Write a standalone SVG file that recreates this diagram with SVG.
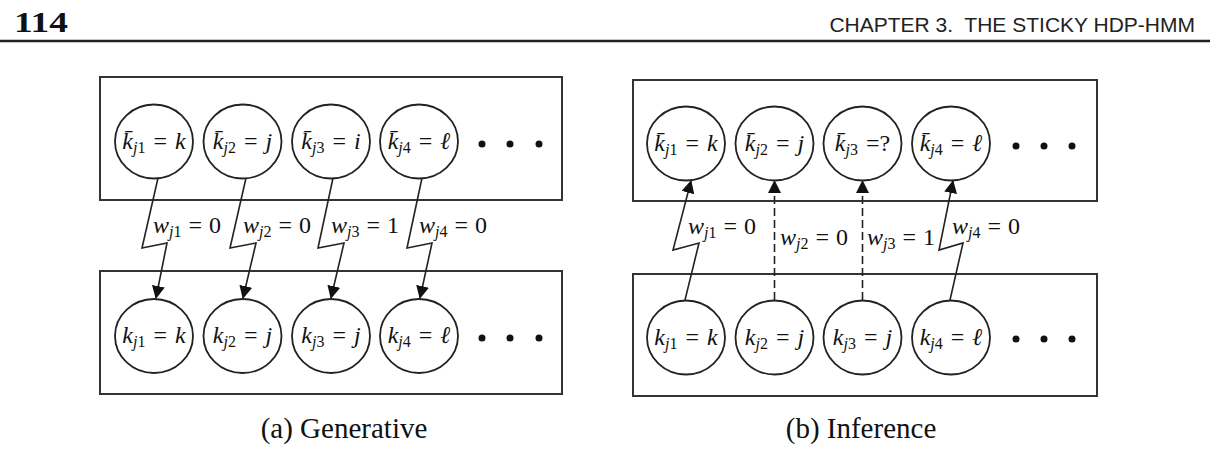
<svg xmlns="http://www.w3.org/2000/svg" width="1224" height="456" viewBox="0 0 1224 456">
<style>
.box{fill:none;stroke:#333;stroke-width:2}
.nd{fill:#fff;stroke:#222;stroke-width:1.8}
.dot{fill:#111}
.m{font-family:"Liberation Serif",serif;font-size:24px;fill:#111}
.i{font-style:italic}
.s{font-size:16px}
.ed{fill:none;stroke:#222;stroke-width:1.6}
.dash{stroke-dasharray:8,4}
.cap{font-family:"Liberation Serif",serif;font-size:29px;fill:#111}
</style>
<defs>
<marker id="ah" markerWidth="13" markerHeight="13" viewBox="0 0 13 13" refX="12" refY="6.5" orient="auto" markerUnits="userSpaceOnUse">
<path d="M0,0 L13,6.5 L0,13 z" fill="#111"/>
</marker>
</defs>
<rect width="1224" height="456" fill="#fff"/>
<g id="header">
<text x="14" y="32" font-family="Liberation Serif,serif" font-weight="bold" font-size="29" textLength="54" lengthAdjust="spacingAndGlyphs" fill="#111">114</text>
<text x="1195" y="32" text-anchor="end" xml:space="preserve" font-family="Liberation Sans,sans-serif" font-size="21" fill="#222">CHAPTER 3.  THE STICKY HDP-HMM</text>
<line x1="0" y1="41" x2="1210" y2="41" stroke="#222" stroke-width="2.5"/>
</g>
<!-- Panel (a) -->
<g id="a-top-box"><rect class="box" x="100" y="77" width="462" height="123"/></g>
<g id="a-bottom-box"><rect class="box" x="100" y="271" width="462" height="123"/></g>
<g id="connectors-a">
<path class="ed" d="M158,178 L142,248 L167,243 L156,298" marker-end="url(#ah)"/>
<path class="ed" d="M246,178 L230,248 L256,243 L243,298" marker-end="url(#ah)"/>
<path class="ed" d="M333,178 L318,248 L344,243 L331,298" marker-end="url(#ah)"/>
<path class="ed" d="M422,178 L407,248 L432,243 L420,298" marker-end="url(#ah)"/>
<text class="m" x="153" y="233"><tspan class="i">w</tspan><tspan class="s i" dy="4">j</tspan><tspan class="s">1</tspan><tspan dy="-4" dx="7">=</tspan><tspan dx="7">0</tspan></text>
<text class="m" x="243" y="233"><tspan class="i">w</tspan><tspan class="s i" dy="4">j</tspan><tspan class="s">2</tspan><tspan dy="-4" dx="7">=</tspan><tspan dx="7">0</tspan></text>
<text class="m" x="331" y="233"><tspan class="i">w</tspan><tspan class="s i" dy="4">j</tspan><tspan class="s">3</tspan><tspan dy="-4" dx="7">=</tspan><tspan dx="7">1</tspan></text>
<text class="m" x="419" y="233"><tspan class="i">w</tspan><tspan class="s i" dy="4">j</tspan><tspan class="s">4</tspan><tspan dy="-4" dx="7">=</tspan><tspan dx="7">0</tspan></text>
</g>
<g id="a-kbar1"><ellipse class="nd" cx="154" cy="141.5" rx="39" ry="37"/><text class="m" x="154" y="149" text-anchor="middle"><tspan class="i">k̄</tspan><tspan class="s i" dy="4">j</tspan><tspan class="s">1</tspan><tspan dy="-4" dx="8">=</tspan><tspan class="i" dx="8">k</tspan></text></g>
<g id="a-kbar2"><ellipse class="nd" cx="242.5" cy="141.5" rx="39" ry="37"/><text class="m" x="242.5" y="149" text-anchor="middle"><tspan class="i">k̄</tspan><tspan class="s i" dy="4">j</tspan><tspan class="s">2</tspan><tspan dy="-4" dx="8">=</tspan><tspan class="i" dx="8">j</tspan></text></g>
<g id="a-kbar3"><ellipse class="nd" cx="331" cy="141.5" rx="39" ry="37"/><text class="m" x="331" y="149" text-anchor="middle"><tspan class="i">k̄</tspan><tspan class="s i" dy="4">j</tspan><tspan class="s">3</tspan><tspan dy="-4" dx="8">=</tspan><tspan class="i" dx="8">i</tspan></text></g>
<g id="a-kbar4"><ellipse class="nd" cx="419" cy="141.5" rx="39" ry="37"/><text class="m" x="419" y="149" text-anchor="middle"><tspan class="i">k̄</tspan><tspan class="s i" dy="4">j</tspan><tspan class="s">4</tspan><tspan dy="-4" dx="8">=</tspan><tspan class="i" dx="8">ℓ</tspan></text></g>
<g id="a-top-dots"><circle class="dot" cx="482" cy="144" r="3.5"/><circle class="dot" cx="510" cy="144" r="3.5"/><circle class="dot" cx="539" cy="144" r="3.5"/></g>
<g id="a-k1"><ellipse class="nd" cx="154" cy="336" rx="39" ry="37"/><text class="m" x="154" y="343" text-anchor="middle"><tspan class="i">k</tspan><tspan class="s i" dy="4">j</tspan><tspan class="s">1</tspan><tspan dy="-4" dx="8">=</tspan><tspan class="i" dx="8">k</tspan></text></g>
<g id="a-k2"><ellipse class="nd" cx="242.5" cy="336" rx="39" ry="37"/><text class="m" x="242.5" y="343" text-anchor="middle"><tspan class="i">k</tspan><tspan class="s i" dy="4">j</tspan><tspan class="s">2</tspan><tspan dy="-4" dx="8">=</tspan><tspan class="i" dx="8">j</tspan></text></g>
<g id="a-k3"><ellipse class="nd" cx="331" cy="336" rx="39" ry="37"/><text class="m" x="331" y="343" text-anchor="middle"><tspan class="i">k</tspan><tspan class="s i" dy="4">j</tspan><tspan class="s">3</tspan><tspan dy="-4" dx="8">=</tspan><tspan class="i" dx="8">j</tspan></text></g>
<g id="a-k4"><ellipse class="nd" cx="419" cy="336" rx="39" ry="37"/><text class="m" x="419" y="343" text-anchor="middle"><tspan class="i">k</tspan><tspan class="s i" dy="4">j</tspan><tspan class="s">4</tspan><tspan dy="-4" dx="8">=</tspan><tspan class="i" dx="8">ℓ</tspan></text></g>
<g id="a-bottom-dots"><circle class="dot" cx="482" cy="338" r="3.5"/><circle class="dot" cx="510" cy="338" r="3.5"/><circle class="dot" cx="539" cy="338" r="3.5"/></g>
<text class="cap" x="344" y="438" text-anchor="middle">(a) Generative</text>
<!-- Panel (b) -->
<g id="b-top-box"><rect class="box" x="633" y="80" width="464" height="121"/></g>
<g id="b-bottom-box"><rect class="box" x="633" y="274" width="464" height="122"/></g>
<g id="connectors-b">
<path class="ed" d="M685,300 L699,243 L673,250 L691,181" marker-end="url(#ah)"/>
<path class="ed dash" d="M774.5,300 L774.5,181" marker-end="url(#ah)"/>
<path class="ed dash" d="M862.5,300 L862.5,181" marker-end="url(#ah)"/>
<path class="ed" d="M950,300 L963,243 L939,250 L953,181" marker-end="url(#ah)"/>
<text class="m" x="688" y="234"><tspan class="i">w</tspan><tspan class="s i" dy="4">j</tspan><tspan class="s">1</tspan><tspan dy="-4" dx="7">=</tspan><tspan dx="7">0</tspan></text>
<text class="m" x="780" y="245"><tspan class="i">w</tspan><tspan class="s i" dy="4">j</tspan><tspan class="s">2</tspan><tspan dy="-4" dx="7">=</tspan><tspan dx="7">0</tspan></text>
<text class="m" x="867" y="245"><tspan class="i">w</tspan><tspan class="s i" dy="4">j</tspan><tspan class="s">3</tspan><tspan dy="-4" dx="7">=</tspan><tspan dx="7">1</tspan></text>
<text class="m" x="952" y="234"><tspan class="i">w</tspan><tspan class="s i" dy="4">j</tspan><tspan class="s">4</tspan><tspan dy="-4" dx="7">=</tspan><tspan dx="7">0</tspan></text>
</g>
<g id="b-kbar1"><ellipse class="nd" cx="686" cy="143.5" rx="39" ry="37"/><text class="m" x="686" y="151" text-anchor="middle"><tspan class="i">k̄</tspan><tspan class="s i" dy="4">j</tspan><tspan class="s">1</tspan><tspan dy="-4" dx="8">=</tspan><tspan class="i" dx="8">k</tspan></text></g>
<g id="b-kbar2"><ellipse class="nd" cx="774.5" cy="143.5" rx="39" ry="37"/><text class="m" x="774.5" y="151" text-anchor="middle"><tspan class="i">k̄</tspan><tspan class="s i" dy="4">j</tspan><tspan class="s">2</tspan><tspan dy="-4" dx="8">=</tspan><tspan class="i" dx="8">j</tspan></text></g>
<g id="b-kbar3"><ellipse class="nd" cx="862.5" cy="143.5" rx="39" ry="37"/><text class="m" x="862.5" y="151" text-anchor="middle"><tspan class="i">k̄</tspan><tspan class="s i" dy="4">j</tspan><tspan class="s">3</tspan><tspan dy="-4" dx="8">=?</tspan></text></g>
<g id="b-kbar4"><ellipse class="nd" cx="951" cy="143.5" rx="39" ry="37"/><text class="m" x="951" y="151" text-anchor="middle"><tspan class="i">k̄</tspan><tspan class="s i" dy="4">j</tspan><tspan class="s">4</tspan><tspan dy="-4" dx="8">=</tspan><tspan class="i" dx="8">ℓ</tspan></text></g>
<g id="b-top-dots"><circle class="dot" cx="1016" cy="146" r="3.5"/><circle class="dot" cx="1044" cy="146" r="3.5"/><circle class="dot" cx="1072" cy="146" r="3.5"/></g>
<g id="b-k1"><ellipse class="nd" cx="686" cy="337.5" rx="39" ry="37"/><text class="m" x="686" y="345" text-anchor="middle"><tspan class="i">k</tspan><tspan class="s i" dy="4">j</tspan><tspan class="s">1</tspan><tspan dy="-4" dx="8">=</tspan><tspan class="i" dx="8">k</tspan></text></g>
<g id="b-k2"><ellipse class="nd" cx="774.5" cy="337.5" rx="39" ry="37"/><text class="m" x="774.5" y="345" text-anchor="middle"><tspan class="i">k</tspan><tspan class="s i" dy="4">j</tspan><tspan class="s">2</tspan><tspan dy="-4" dx="8">=</tspan><tspan class="i" dx="8">j</tspan></text></g>
<g id="b-k3"><ellipse class="nd" cx="862.5" cy="337.5" rx="39" ry="37"/><text class="m" x="862.5" y="345" text-anchor="middle"><tspan class="i">k</tspan><tspan class="s i" dy="4">j</tspan><tspan class="s">3</tspan><tspan dy="-4" dx="8">=</tspan><tspan class="i" dx="8">j</tspan></text></g>
<g id="b-k4"><ellipse class="nd" cx="951" cy="337.5" rx="39" ry="37"/><text class="m" x="951" y="345" text-anchor="middle"><tspan class="i">k</tspan><tspan class="s i" dy="4">j</tspan><tspan class="s">4</tspan><tspan dy="-4" dx="8">=</tspan><tspan class="i" dx="8">ℓ</tspan></text></g>
<g id="b-bottom-dots"><circle class="dot" cx="1016" cy="339" r="3.5"/><circle class="dot" cx="1044" cy="339" r="3.5"/><circle class="dot" cx="1072" cy="339" r="3.5"/></g>
<text class="cap" x="861" y="438" text-anchor="middle">(b) Inference</text>
</svg>
